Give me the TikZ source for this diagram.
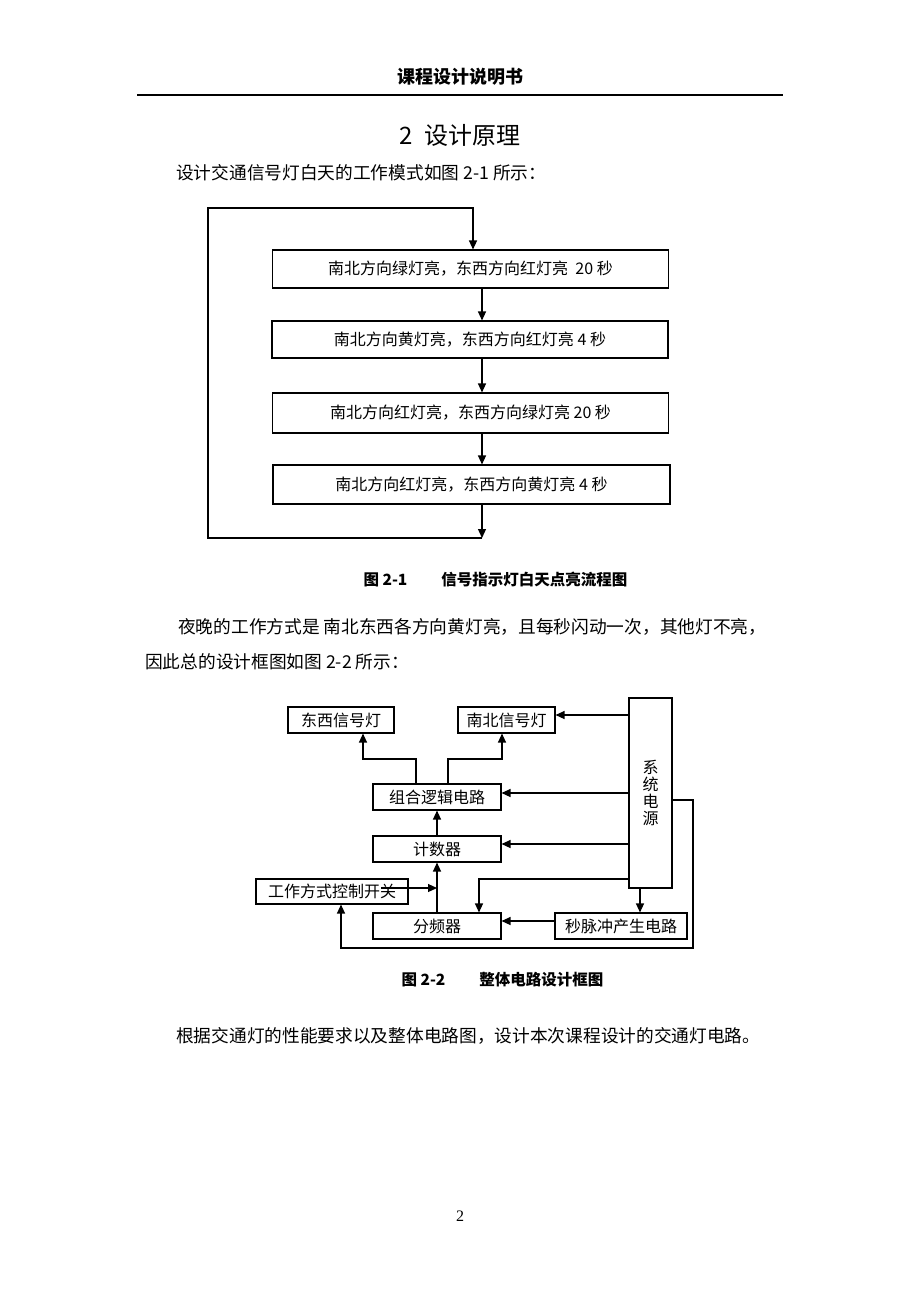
\documentclass[tikz,border=0pt]{standalone}
\usepackage{fontspec}
\setmainfont{Noto Sans CJK SC}
\newfontfamily\numfont{Liberation Serif}
\usetikzlibrary{arrows.meta}

\tikzset{
  box/.style={draw, line width=1.1pt, inner sep=0pt, font=\fontsize{16}{16}\selectfont},
  arr/.style={line width=1.2pt, -{Triangle[length=9pt,width=8pt]}},
  txt/.style={inner sep=0pt, font=\fontsize{17.7}{18}\selectfont},
  figcap/.style={inner sep=0pt, font=\fontsize{15.5}{16}\selectfont\bfseries},
}

\begin{document}
\begin{tikzpicture}[x=1pt,y=-1pt]
  \useasboundingbox (0,0) rectangle (920,1302);
  % page head
  \node[inner sep=0pt, font=\fontsize{18}{18}\selectfont\bfseries] (head) at (460,77) {课程设计说明书};
  \draw[line width=1.6pt] (137,95) -- (783,95);
  \node[inner sep=0pt, font=\fontsize{24}{24}\selectfont] (title) at (460,135) {2\ \ 设计原理};
  \node[txt, anchor=west] (par1) at (176,173) {设计交通信号灯白天的工作模式如图 2-1 所示：};

  % day flow
  \node[box, minimum width=396pt, minimum height=38pt] (s1) at (470.5,269) {南北方向绿灯亮，东西方向红灯亮\ \ 20 秒};
  \node[box, minimum width=396pt, minimum height=37pt] (s2) at (470,339.5) {南北方向黄灯亮，东西方向红灯亮 4 秒};
  \node[box, minimum width=396pt, minimum height=40pt] (s3) at (470.5,413) {南北方向红灯亮，东西方向绿灯亮 20 秒};
  \node[box, minimum width=397pt, minimum height=39pt] (s4) at (471.5,484.5) {南北方向红灯亮，东西方向黄灯亮 4 秒};
  \coordinate (ax) at (482,0);
  \coordinate (tx) at (473,0);
  \coordinate (lb) at (482,538);
  \coordinate (lt) at (208,208);
  \draw[arr] (s1.south -| ax) -- (s2.north -| ax);
  \draw[arr] (s2.south -| ax) -- (s3.north -| ax);
  \draw[arr] (s3.south -| ax) -- (s4.north -| ax);
  \draw[arr] (s4.south -| ax) -- (lb);
  \draw[arr] (lb) -| (lt) -| (s1.north -| tx);
  \node[figcap] (cap1) at (495.5,580) {图 2-1\hspace{34pt}信号指示灯白天点亮流程图};

  \node[txt, anchor=west] (par2a) at (178,627) {夜晚的工作方式是 南北东西各方向黄灯亮，且每秒闪动一次，其他灯不亮，};
  \node[txt, anchor=west] (par2b) at (145,662) {因此总的设计框图如图 2-2 所示：};

  % circuit blocks
  \node[box, minimum width=106pt, minimum height=26pt] (ew) at (341,720) {东西信号灯};
  \node[box, minimum width=97pt, minimum height=26pt] (ns) at (506.5,720) {南北信号灯};
  \node[box, minimum width=43pt, minimum height=190pt, align=center,
        font=\fontsize{16}{17}\selectfont] (pw) at (650.5,793) {系\\统\\电\\源};
  \node[box, minimum width=128pt, minimum height=26pt] (logic) at (437,797) {组合逻辑电路};
  \node[box, minimum width=128pt, minimum height=26pt] (cnt) at (437,849) {计数器};
  \node[box, minimum width=152pt, minimum height=25pt] (sw) at (332,891.5) {工作方式控制开关};
  \node[box, minimum width=128pt, minimum height=26pt] (div) at (437,926) {分频器};
  \node[box, minimum width=132pt, minimum height=26pt] (sec) at (621,926) {秒脉冲产生电路};
  \coordinate (mid) at (0,759);
  \coordinate (swout) at (381,888);
  \coordinate (rr) at (693,948);
  \draw[arr] (pw.west |- 0,715) -- (ns.east |- 0,715);
  \draw[arr] (pw.west |- 0,793) -- (logic.east |- 0,793);
  \draw[arr] (pw.west |- 0,844) -- (cnt.east |- 0,844);
  \draw[arr] ([xshift=-21pt]logic.north) -- ([xshift=-21pt]logic.north |- mid) -| ([xshift=22pt]ew.south);
  \draw[arr] ([xshift=11pt]logic.north) -- ([xshift=11pt]logic.north |- mid) -| ([xshift=-4.5pt]ns.south);
  \draw[arr] (cnt.north) -- (logic.south);
  \draw[arr] (div.north) -- (cnt.south);
  \draw[arr] (swout) -- (swout -| cnt.south);
  \draw[arr] (pw.west |- 0,879) -| ([xshift=42pt]div.north);
  \draw[arr] ([xshift=-10.5pt]pw.south) -- ([xshift=-10.5pt]pw.south |- sec.north);
  \draw[arr] (sec.west |- 0,921) -- (div.east |- 0,921);
  \draw[arr] (pw.east |- 0,800) -| (rr) -| ([xshift=9pt]sw.south);
  \node[figcap] (cap2) at (502.5,980) {图 2-2\hspace{34pt}整体电路设计框图};

  \node[txt, anchor=west] (par3) at (176,1036) {根据交通灯的性能要求以及整体电路图，设计本次课程设计的交通灯电路。};
  \node[inner sep=0pt, font=\numfont\fontsize{16}{16}\selectfont] (pnum) at (460,1216) {2};
\end{tikzpicture}
\end{document}
